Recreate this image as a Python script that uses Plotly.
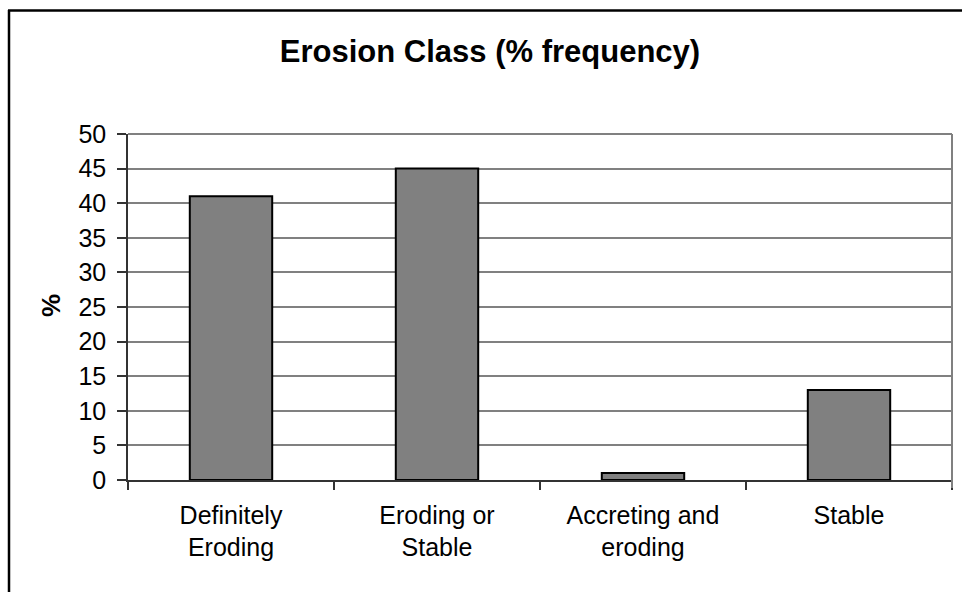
import plotly.graph_objects as go

# Erosion class frequencies (%)
categories = ["Definitely<br>Eroding", "Eroding or<br>Stable", "Accreting and<br>eroding", "Stable"]
percent = [41, 45, 1, 13]
y_ticks = [0, 5, 10, 15, 20, 25, 30, 35, 40, 45, 50]

W, H = 962, 592
L, R, T, B = 128, 10, 134, 112
pw, ph = W - L - R, H - T - B


def px_x(x):
    return (x - L) / pw


def px_y(y):
    return (H - B - y) / ph


FONT = "Liberation Sans, Arial, sans-serif"
AXIS = "#333333"
GRID = "#808080"

fig = go.Figure(
    go.Bar(
        x=categories,
        y=percent,
        marker=dict(color="#808080", line=dict(color="black", width=2)),
        hoverinfo="x+y",
    )
)

fig.update_layout(
    width=W,
    height=H,
    margin=dict(l=L, r=R, t=T, b=B, autoexpand=False),
    paper_bgcolor="white",
    plot_bgcolor="white",
    bargap=0.6,
    showlegend=False,
    font=dict(family=FONT, size=25, color="black"),
    title=dict(
        text="<b>Erosion Class (% frequency)</b>",
        font=dict(family=FONT, size=31, color="black"),
        x=490 / W, xref="container", xanchor="center",
        y=1 - 51 / H, yref="container", yanchor="middle",
    ),
    xaxis=dict(
        showline=True, linecolor=AXIS, linewidth=1.5,
        ticks="outside", tickson="boundaries", ticklen=8, tickcolor=AXIS, tickwidth=1.5,
        showgrid=False, zeroline=False,
        tickfont=dict(family=FONT, size=25, color="black"),
        ticklabelstandoff=12,
    ),
    yaxis=dict(
        range=[0, 50], tickvals=y_ticks,
        showline=True, linecolor=AXIS, linewidth=1.5,
        ticks="outside", ticklen=9, tickcolor=AXIS, tickwidth=1.5,
        showgrid=True, gridcolor=GRID, gridwidth=1.5,
        zeroline=False,
        tickfont=dict(family=FONT, size=25, color="black"),
        ticklabelstandoff=6,
    ),
    annotations=[
        dict(
            text="<b>%</b>", x=px_x(51), y=px_y(306), xref="paper", yref="paper",
            showarrow=False, textangle=-90,
            font=dict(family=FONT, size=26, color="black"),
            xanchor="center", yanchor="middle",
        )
    ],
    shapes=[
        # plot area frame (top and right edges)
        dict(type="line", xref="paper", yref="paper", x0=0, x1=1, y0=1, y1=1,
             line=dict(color=GRID, width=2)),
        dict(type="line", xref="paper", yref="paper", x0=1, x1=1, y0=px_y(488), y1=1,
             line=dict(color=GRID, width=2)),
        # chart frame
        dict(type="line", xref="paper", yref="paper", x0=px_x(9), x1=px_x(9),
             y0=px_y(600), y1=px_y(10), line=dict(color="black", width=2.5)),
        dict(type="line", xref="paper", yref="paper", x0=px_x(8), x1=px_x(970),
             y0=px_y(10.5), y1=px_y(10.5), line=dict(color="black", width=2.5)),
    ],
)

fig.write_html("out.html")
